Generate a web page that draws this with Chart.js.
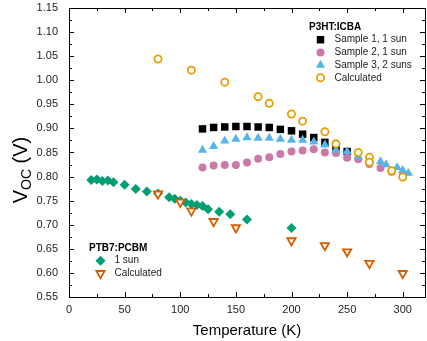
<!DOCTYPE html>
<html>
<head>
<meta charset="utf-8">
<script src="https://cdn.jsdelivr.net/npm/chart.js@4.4.1/dist/chart.umd.min.js"></script>
<style>
  html, body { margin: 0; padding: 0; background: #fff; }
</style>
</head>
<body>
<canvas id="chart" width="427" height="341"></canvas>
<script>
// P3HT:ICBA
const s1Temp = [120, 130, 140, 150, 160, 170, 180, 190, 200, 210, 220, 230, 240, 250];
const s1Voc  = [0.899, 0.902, 0.903, 0.904, 0.904, 0.903, 0.902, 0.898, 0.895, 0.888, 0.881, 0.871, 0.861, 0.852];

const s2Temp = [120, 130, 140, 150, 160, 170, 180, 190, 200, 210, 220, 230, 240, 250, 260, 270, 280, 290, 300];
const s2Voc  = [0.819, 0.823, 0.824, 0.824, 0.829, 0.837, 0.840, 0.847, 0.852, 0.854, 0.857, 0.850, 0.849, 0.839, 0.836, 0.826, 0.818, 0.810, 0.803];

const s3Temp = [120, 130, 140, 150, 160, 170, 180, 190, 200, 210, 220, 230, 240, 250, 260, 270, 280, 285, 295, 300, 305];
const s3Voc  = [0.855, 0.863, 0.874, 0.878, 0.881, 0.880, 0.880, 0.878, 0.876, 0.876, 0.872, 0.866, 0.855, 0.852, 0.841, 0.835, 0.831, 0.825, 0.819, 0.813, 0.807];

const calcTemp = [80, 110, 140, 170, 180, 200, 210, 230, 240, 260, 270, 270, 290, 300];
const calcVoc  = [1.044, 1.021, 0.996, 0.966, 0.952, 0.930, 0.915, 0.893, 0.868, 0.850, 0.840, 0.830, 0.812, 0.799];

// PTB7:PCBM
const ptbTemp = [20, 25, 30, 35, 40, 50, 60, 70, 80, 90, 95, 100, 105, 110, 115, 120, 125, 135, 145, 160, 200];
const ptbVoc  = [0.793, 0.794, 0.791, 0.792, 0.788, 0.783, 0.774, 0.769, 0.765, 0.757, 0.754, 0.750, 0.746, 0.743, 0.741, 0.739, 0.732, 0.727, 0.722, 0.711, 0.693];

const ptbCalcTemp = [80, 100, 110, 130, 150, 200, 230, 250, 270, 300];
const ptbCalcVoc  = [0.764, 0.747, 0.729, 0.707, 0.694, 0.667, 0.657, 0.644, 0.620, 0.599];

const xTicks = [0, 50, 100, 150, 200, 250, 300];
const yTicks = [0.55, 0.60, 0.65, 0.70, 0.75, 0.80, 0.85, 0.90, 0.95, 1.00, 1.05, 1.10, 1.15];

const FONT = "'Liberation Sans', Arial, sans-serif";

function pts(xs, ys) {
  return xs.map((x, i) => ({ x: x, y: ys[i] }));
}

const datasets = [
  { label: 'Sample 1, 1 sun', data: pts(s1Temp, s1Voc), pointStyle: 'rect', pointRadius: 5.3,
    backgroundColor: '#000', borderColor: '#000', borderWidth: 0, order: 4 },
  { label: 'Sample 2, 1 sun', data: pts(s2Temp, s2Voc), pointStyle: 'circle', pointRadius: 4,
    backgroundColor: '#cc79a7', borderColor: '#cc79a7', borderWidth: 0, order: 3 },
  { label: 'Sample 3, 2 suns', data: pts(s3Temp, s3Voc), pointStyle: 'triangle', pointRadius: 5.3,
    backgroundColor: '#56b4e9', borderColor: '#56b4e9', borderWidth: 0, order: 2 },
  { label: 'Calculated', data: pts(calcTemp, calcVoc), pointStyle: 'circle', pointRadius: 3.6,
    backgroundColor: '#fff', borderColor: '#e69f00', borderWidth: 1.8, order: 1 },
  { label: '1 sun', data: pts(ptbTemp, ptbVoc), pointStyle: 'rectRot', pointRadius: 5,
    backgroundColor: '#009e73', borderColor: '#009e73', borderWidth: 0, order: 6 },
  { label: 'Calculated', data: pts(ptbCalcTemp, ptbCalcVoc), pointStyle: 'triangle', pointRotation: 180, pointRadius: 4.8,
    backgroundColor: '#fff', borderColor: '#d55e00', borderWidth: 1.8, order: 5 }
];

const legends = [
  { title: 'P3HT:ICBA', x: 309, y: 27, items: [0, 1, 2, 3] },
  { title: 'PTB7:PCBM', x: 89, y: 248, items: [4, 5] }
];

function drawMarker(ctx, ds, x, y) {
  ctx.save();
  ctx.fillStyle = ds.backgroundColor;
  ctx.strokeStyle = ds.borderColor;
  ctx.lineWidth = ds.borderWidth;
  Chart.helpers.drawPoint(ctx, {
    pointStyle: ds.pointStyle,
    radius: ds.pointRadius,
    rotation: ds.pointRotation || 0,
    borderWidth: ds.borderWidth
  }, x, y);
  ctx.restore();
}

// no label overflow padding, fixed axis sizes
function fixBox(size, key) {
  return s => {
    s[key] = size;
    s.paddingTop = 0; s.paddingBottom = 0; s.paddingLeft = 0; s.paddingRight = 0;
  };
}

const framePlugin = {
  id: 'frame',
  afterDraw(chart) {
    const ctx = chart.ctx;
    const a = chart.chartArea;
    const xs = chart.scales.x, ys = chart.scales.y;
    ctx.save();
    ctx.strokeStyle = '#000';
    ctx.lineWidth = 1;
    ctx.strokeRect(Math.round(a.left) + 0.5, Math.round(a.top) + 0.5,
                   Math.round(a.right - a.left), Math.round(a.bottom - a.top));
    ctx.beginPath();
    for (let v = 0; v <= 320; v += 25) {
      const len = v % 50 === 0 ? 5 : 3;
      const px = Math.round(xs.getPixelForValue(v)) + 0.5;
      ctx.moveTo(px, a.bottom); ctx.lineTo(px, a.bottom - len);
      ctx.moveTo(px, a.top); ctx.lineTo(px, a.top + len);
    }
    for (let i = 0; i <= 24; i++) {
      const v = 0.55 + i * 0.025;
      const len = i % 2 === 0 ? 5 : 3;
      const py = Math.round(ys.getPixelForValue(v)) + 0.5;
      ctx.moveTo(a.left, py); ctx.lineTo(a.left + len, py);
      ctx.moveTo(a.right, py); ctx.lineTo(a.right - len, py);
    }
    ctx.stroke();

    // tick labels
    ctx.fillStyle = '#222';
    ctx.font = '11px ' + FONT;
    ctx.textBaseline = 'middle';
    ctx.textAlign = 'center';
    xTicks.forEach(v => ctx.fillText(String(v), xs.getPixelForValue(v), a.bottom + 13));
    ctx.textAlign = 'right';
    yTicks.forEach(v => ctx.fillText(v.toFixed(2), a.left - 11, ys.getPixelForValue(v)));

    // legends
    legends.forEach(lg => {
      ctx.fillStyle = '#000';
      ctx.font = 'bold 10px ' + FONT;
      ctx.textBaseline = 'middle';
      ctx.textAlign = 'left';
      ctx.fillText(lg.title, lg.x, lg.y);
      lg.items.forEach((di, k) => {
        const ds = chart.data.datasets[di];
        const y = lg.y + 12.7 * (k + 1);
        drawMarker(ctx, ds, lg.x + 11.5, y);
        ctx.fillStyle = '#222';
        ctx.font = '10px ' + FONT;
        ctx.fillText(ds.label, lg.x + 25.5, y);
      });
    });

    // x title
    ctx.fillStyle = '#000';
    ctx.font = '15px ' + FONT;
    ctx.textAlign = 'center';
    ctx.textBaseline = 'alphabetic';
    ctx.fillText('Temperature (K)', (a.left + a.right) / 2, 335);

    // y title with subscript
    ctx.translate(27, 170);
    ctx.rotate(-Math.PI / 2);
    ctx.textAlign = 'left';
    const big = '20px ' + FONT, small = '14px ' + FONT;
    ctx.font = big; const w1 = ctx.measureText('V').width;
    ctx.font = small; const w2 = ctx.measureText('OC').width;
    ctx.font = big; const w3 = ctx.measureText(' (V)').width;
    let x0 = -(w1 + w2 + w3) / 2;
    ctx.font = big; ctx.fillText('V', x0, 0);
    ctx.font = small; ctx.fillText('OC', x0 + w1, 4);
    ctx.font = big; ctx.fillText(' (V)', x0 + w1 + w2, 0);
    ctx.restore();
  }
};

new Chart(document.getElementById('chart'), {
  type: 'scatter',
  data: { datasets: datasets },
  options: {
    responsive: false,
    animation: false,
    layout: { autoPadding: false, padding: { top: 8, right: 2, left: 0, bottom: 0 } },
    plugins: { legend: { display: false }, tooltip: { enabled: false } },
    scales: {
      x: {
        type: 'linear', min: 0, max: 320,
        grid: { display: false }, border: { display: false },
        afterBuildTicks: s => { s.ticks = xTicks.map(v => ({ value: v })); },
        afterFit: fixBox(44, 'height'),
        ticks: { display: false }
      },
      y: {
        type: 'linear', min: 0.55, max: 1.15,
        grid: { display: false }, border: { display: false },
        afterBuildTicks: s => { s.ticks = yTicks.map(v => ({ value: v })); },
        afterFit: fixBox(69, 'width'),
        ticks: { display: false }
      }
    }
  },
  plugins: [framePlugin]
});
</script>
</body>
</html>
